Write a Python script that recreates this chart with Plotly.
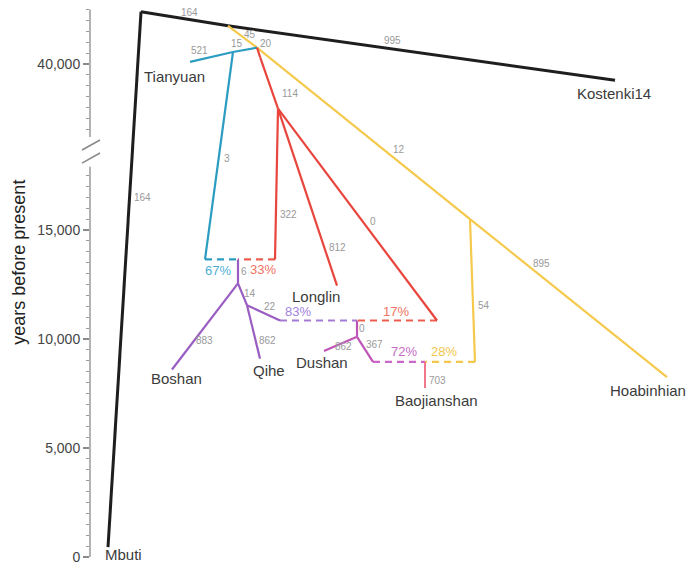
import plotly.graph_objects as go

# ---------------- data ----------------
# tree nodes: internal nodes (junctions / admixture points) and sampled populations
node_names = ["root", "J1", "J2", "R0", "R1", "B1", "B2", "R2", "A1", "P1", "P2", "P3",
              "R3", "A2", "D1", "D2", "Y1", "Y2", "A3",
              "Mbuti", "Kostenki14", "Tianyuan", "Longlin", "Boshan", "Qihe",
              "Dushan", "Baojianshan", "Hoabinhian"]
# age of each node in years before present
node_age = [42400, 41750, 40750, 40300, 37950, 40550, 13650, 13650, 13650, 12550, 11550, 10850,
            10850, 10850, 10100, 8950, 15500, 8950, 8950,
            450, 39250, 40100, 12450, 8600, 9100,
            9450, 7750, 8250]

# edges of the admixture graph
edge_from = ["root", "root", "J1",
             "J1", "J2", "Y1", "Y1", "Y2",
             "J2", "B1", "B1", "B2",
             "J2", "R0", "R1", "R1", "R1", "R2", "R3",
             "A1", "P1", "P1", "P2", "P2", "P3",
             "A2", "D1", "D1", "D2",
             "A3"]
edge_to = ["Mbuti", "J1", "Kostenki14",
           "J2", "Y1", "Hoabinhian", "Y2", "A3",
           "B1", "Tianyuan", "B2", "A1",
           "R0", "R1", "R2", "Longlin", "R3", "A1", "A2",
           "P1", "Boshan", "P2", "Qihe", "P3", "A2",
           "D1", "Dushan", "D2", "A3",
           "Baojianshan"]
edge_lineage = ["Mbuti", "Kostenki14", "Kostenki14",
                "Hoabinhian", "Hoabinhian", "Hoabinhian", "Hoabinhian", "Hoabinhian-mix",
                "Tianyuan", "Tianyuan", "Tianyuan", "Tianyuan-mix",
                "Longlin", "Longlin", "Longlin", "Longlin", "Longlin", "Longlin-mix", "Longlin-mix",
                "Qihe", "Qihe", "Qihe", "Qihe", "Qihe", "Qihe-mix",
                "Dushan", "Dushan", "Dushan", "Dushan-mix",
                "Baojianshan"]
# drift values (edges) and admixture proportions (dashed edges)
edge_label = ["164", "164", "995",
              "45", "12", "895", "54", "28%",
              "15", "521", "3", "67%",
              "20", "114", "322", "812", "0", "33%", "17%",
              "6", "883", "14", "862", "22", "83%",
              "0", "862", "367", "72%",
              "703"]

tip_names = ["Mbuti", "Kostenki14", "Tianyuan", "Longlin", "Boshan", "Qihe",
             "Dushan", "Baojianshan", "Hoabinhian"]

major_ticks_years = [0, 2500, 5000, 7500, 10000, 12500, 15000, 17500,
                     37500, 40000, 42500]
major_tick_text = ["0", "", "5,000", "", "10,000", "", "15,000", "",
                   "", "40,000", ""]
minor_ticks_years = [v for v in range(500, 18000, 500)] + [v for v in range(37000, 43000, 500)]
axis_segments_years = [(0, 17900), (36650, 42500)]
axis_title = "years before present"

# ---------------- layout / style ----------------
# horizontal placement of nodes (diagram layout, in plot-x units)
node_x = {"root": 141, "J1": 228, "J2": 257, "R0": 260.2, "R1": 278, "B1": 233, "B2": 205,
          "R2": 275, "A1": 238, "P1": 238, "P2": 247, "P3": 280, "R3": 437, "A2": 357,
          "D1": 357, "D2": 373, "Y1": 470, "Y2": 475, "A3": 425,
          "Mbuti": 108, "Kostenki14": 615, "Tianyuan": 190, "Longlin": 337, "Boshan": 172,
          "Qihe": 260, "Dushan": 324, "Baojianshan": 425, "Hoabinhian": 667}

# broken axis: years <= LOW_MAX shown on lower scale, older years on upper scale
LOW_MAX = 18000
UP_MIN = 37500
GAP = 2115


def axis_val(years):
    if years < 30000:
        return years
    return years - UP_MIN + LOW_MAX + GAP


style = {
    "Mbuti": dict(color="#1e1e1e", width=3, dash="solid"),
    "Kostenki14": dict(color="#1e1e1e", width=3, dash="solid"),
    "Hoabinhian": dict(color="#f5c94c", width=2.2, dash="solid"),
    "Hoabinhian-mix": dict(color="#f5c84a", width=2.2, dash="7px,5px"),
    "Tianyuan": dict(color="#2c9dc1", width=2.2, dash="solid"),
    "Tianyuan-mix": dict(color="#2c9dc1", width=2.2, dash="7px,5px"),
    "Longlin": dict(color="#e8453c", width=2.2, dash="solid"),
    "Longlin-mix": dict(color="#ee5e50", width=2.2, dash="7px,5px"),
    "Qihe": dict(color="#9a5ec2", width=2.2, dash="solid"),
    "Qihe-mix": dict(color="#a37ad6", width=2.2, dash="7px,5px"),
    "Dushan": dict(color="#c055b8", width=2.2, dash="solid"),
    "Dushan-mix": dict(color="#cb66c6", width=2.2, dash="7px,5px"),
    "Baojianshan": dict(color="#f0788a", width=2, dash="solid"),
}
pct_color = {"Hoabinhian-mix": "#f3c64c", "Tianyuan-mix": "#4fb0d4", "Longlin-mix": "#f07262",
             "Qihe-mix": "#a283da", "Dushan-mix": "#c56cc8"}

# label placement: (fraction along edge, x shift px, y shift px downward)
label_pos = [(0.347, 13, 0), (0.563, 0, -7), (0.424, 0, -8),
             (0.72, 1, -7), (0.667, 0, -13), (0.365, 0, -13), (0.608, 11, 0), (0.62, 0, -10),
             (0.83, 0, -8), (0.77, 0, -9), (0.512, 8, 0), (0.39, 0, 11),
             (0.5, 7, -9), (0.706, 17, 0), (0.704, 13, 0), (0.787, 13, 0), (0.533, 10, 0), (0.32, 0, 10), (0.51, 0, -9),
             (0.5, 6, 0), (0.667, 11, 0), (0.45, 8, 0), (0.667, 12, 0), (0.7, 0, -9), (0.23, 0, -9),
             (0.47, 5, 0), (0.42, 0, 4), (0.29, 13, 0), (0.6, 0, -10),
             (0.7, 12, 0)]
tip_label_shift = {"Mbuti": (15, 7), "Kostenki14": (-1, 13), "Tianyuan": (-16, 15),
                   "Longlin": (-21, 11), "Boshan": (4, 9), "Qihe": (9, 12),
                   "Dushan": (-2, 11), "Baojianshan": (11, 12), "Hoabinhian": (-19, 13)}

FONT = "Liberation Sans, Arial, sans-serif"
PLOT_W = 601  # plot-area width in px

age = dict(zip(node_names, node_age))

fig = go.Figure()

# edges: dashed admixture edges first, then the solid ones
order = list(range(len(edge_from)))
order.sort(key=lambda i: 0 if edge_lineage[i].endswith("-mix") else 1)
for i in order:
    a, b = edge_from[i], edge_to[i]
    st = style[edge_lineage[i]]
    fig.add_trace(go.Scatter(
        x=[node_x[a], node_x[b]],
        y=[axis_val(age[a]), axis_val(age[b])],
        mode="lines",
        line=dict(color=st["color"], width=st["width"], dash=st["dash"]),
        hoverinfo="skip", showlegend=False))

annotations = []
# edge labels
for i in range(len(edge_from)):
    a, b = edge_from[i], edge_to[i]
    t, dx, dy = label_pos[i]
    xa, xb = node_x[a], node_x[b]
    ya, yb = axis_val(age[a]), axis_val(age[b])
    is_pct = edge_label[i].endswith("%")
    annotations.append(dict(
        x=xa + (xb - xa) * t, y=ya + (yb - ya) * t, xref="x", yref="y",
        text=edge_label[i], showarrow=False, xshift=dx, yshift=-dy,
        font=dict(family=FONT, size=13 if is_pct else 10,
                  color=pct_color[edge_lineage[i]] if is_pct else "#9a9a9a")))

# tip names
for name in tip_names:
    dx, dy = tip_label_shift[name]
    annotations.append(dict(
        x=node_x[name], y=axis_val(age[name]), xref="x", yref="y", text=name,
        showarrow=False, xshift=dx, yshift=-dy,
        font=dict(family=FONT, size=15, color="#3b3b3b")))

# axis title
annotations.append(dict(
    x=-71 / PLOT_W, xref="paper", y=axis_val(13500), yref="y", text=axis_title,
    textangle=-90, showarrow=False, xanchor="center", yanchor="middle",
    font=dict(family=FONT, size=18, color="#222222")))

# broken axis line segments and break marks
shapes = []
for lo, hi in axis_segments_years:
    shapes.append(dict(type="line", xref="paper", yref="y", x0=0, x1=0,
                       y0=axis_val(lo), y1=axis_val(hi),
                       line=dict(color="#8a8a8a", width=1.3)))
for centre in (18900, 18300):
    shapes.append(dict(type="line", xref="paper", yref="y",
                       x0=-8 / PLOT_W, x1=10 / PLOT_W, y0=centre - 230, y1=centre + 230,
                       line=dict(color="#8a8a8a", width=1.6)))

fig.update_layout(
    width=691, height=568,
    margin=dict(l=90, r=0, t=1, b=1),
    paper_bgcolor="white", plot_bgcolor="white",
    annotations=annotations, shapes=shapes,
    xaxis=dict(range=[90, 691], visible=False, fixedrange=True),
    yaxis=dict(range=[-458, 25505], showgrid=False, zeroline=False, showline=False,
               automargin=False,
               tickmode="array",
               tickvals=[axis_val(v) for v in major_ticks_years],
               ticktext=major_tick_text,
               ticks="outside", ticklen=6, tickwidth=1.2, tickcolor="#8a8a8a",
               minor=dict(tickmode="array",
                          tickvals=[axis_val(v) for v in minor_ticks_years],
                          ticks="outside", ticklen=3, tickwidth=1, tickcolor="#9a9a9a"),
               tickfont=dict(family=FONT, size=14, color="#444444"),
               fixedrange=True),
    showlegend=False,
)

# remove the page's default body margin so the figure fills the window exactly
fig.write_html("out.html",
               config={"displayModeBar": False, "staticPlot": True},
               post_script="document.body.style.margin='0px';document.body.style.overflow='hidden';")
